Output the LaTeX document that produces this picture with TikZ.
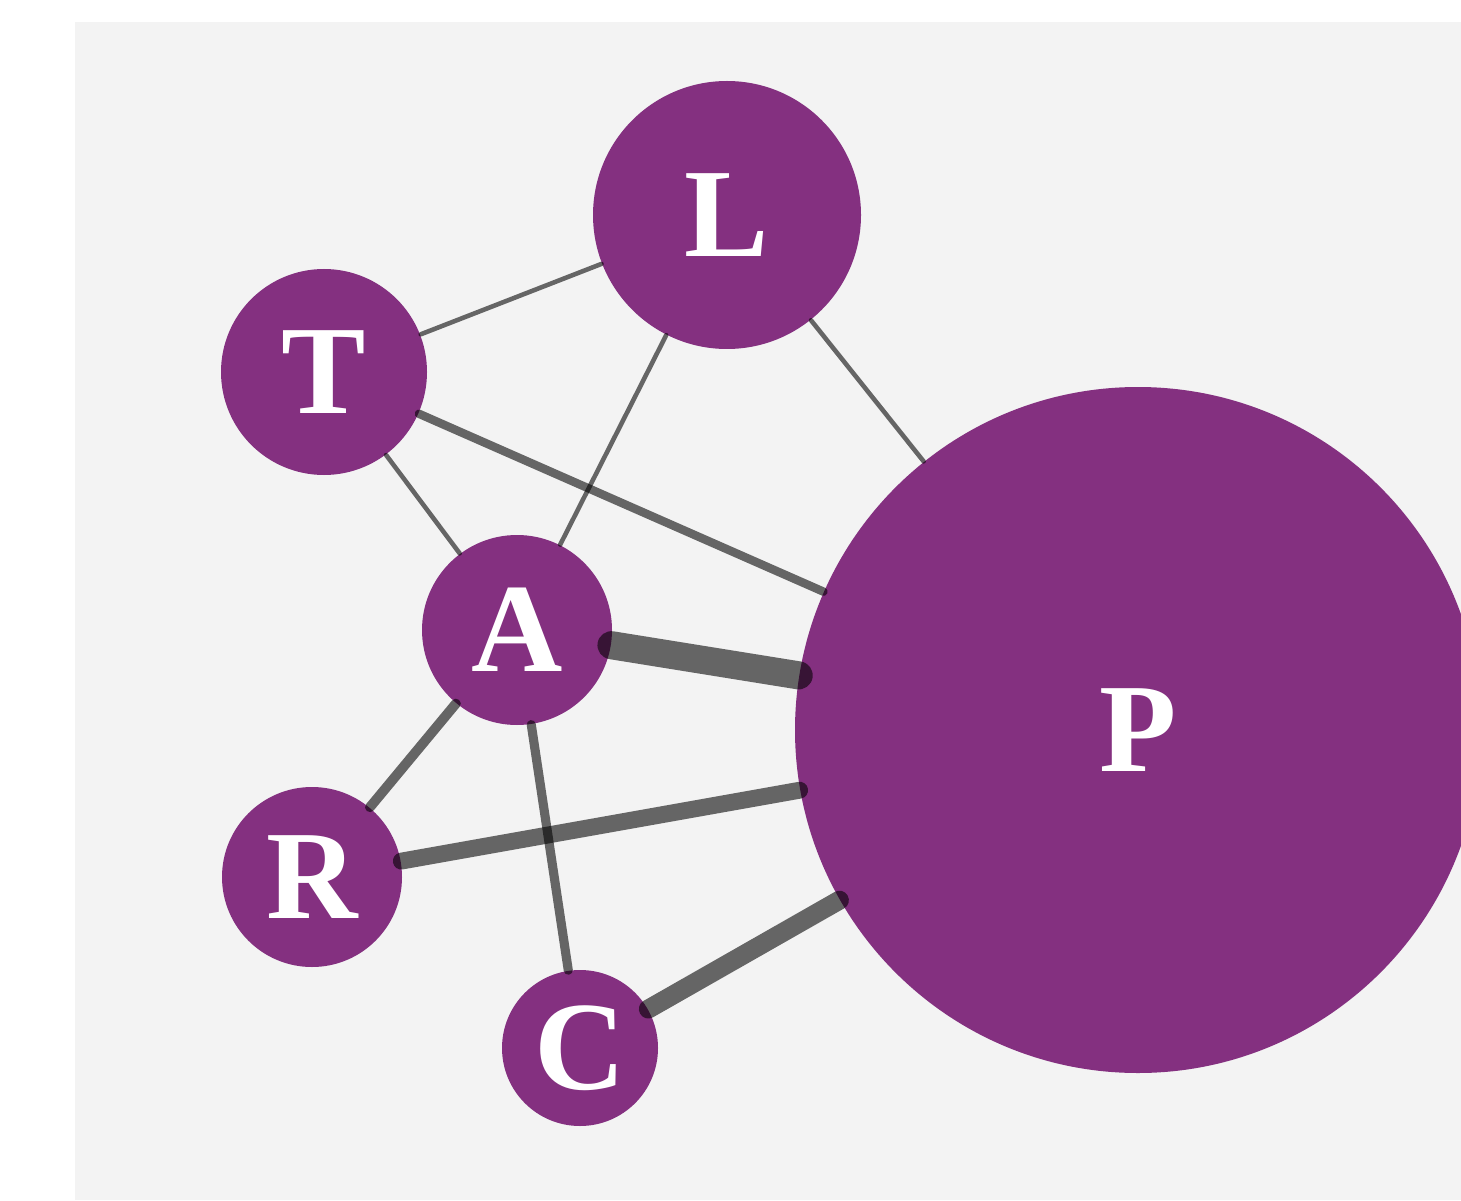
\documentclass[tikz,border=0pt]{standalone}
\usepackage{fontspec}
\setmainfont{Liberation Serif}
\definecolor{nodepurple}{HTML}{843080}
\definecolor{panelgray}{HTML}{F3F3F3}

\begin{document}
\begin{tikzpicture}[
  ent/.style={circle,fill=nodepurple,inner sep=0pt,text=white,
    font=\bfseries\fontsize{36}{36}\selectfont},
  lnk/.style={draw=black,draw opacity=0.58,line cap=round}]
% 画布与灰色底板
\clip (0,0) rectangle (14.61,12);
\fill[white] (0,0) rectangle (14.61,12);
\fill[panelgray] (0.75,0) rectangle (14.61,11.78);
% 圆形节点
\node[ent,minimum size=6.86cm] (P) at (11.38,4.70) {P};
\node[ent,minimum size=2.68cm] (L) at (7.27,9.85) {L};
\node[ent,minimum size=2.06cm] (T) at (3.24,8.28) {T};
\node[ent,minimum size=1.90cm] (A) at (5.17,5.70) {A};
\node[ent,minimum size=1.80cm] (R) at (3.12,3.23) {R};
\node[ent,minimum size=1.56cm] (C) at (5.80,1.52) {C};
% 连线（粗细表示权重）
\draw[lnk,line width=1.3pt] (T) -- (L);
\draw[lnk,line width=1.3pt] (L) -- (A);
\draw[lnk,line width=1.3pt] (L) -- (P);
\draw[lnk,line width=1.3pt] (T) -- (A);
\draw[lnk,line width=2.4pt] (T) -- (P);
\draw[lnk,line width=8pt] (A) -- (P);
\draw[lnk,line width=2.8pt] (A) -- (R);
\draw[lnk,line width=2.6pt] (A) -- (C);
\draw[lnk,line width=4.8pt] (R) -- (P);
\draw[lnk,line width=5.4pt] (C) -- (P);
\end{tikzpicture}
\end{document}
